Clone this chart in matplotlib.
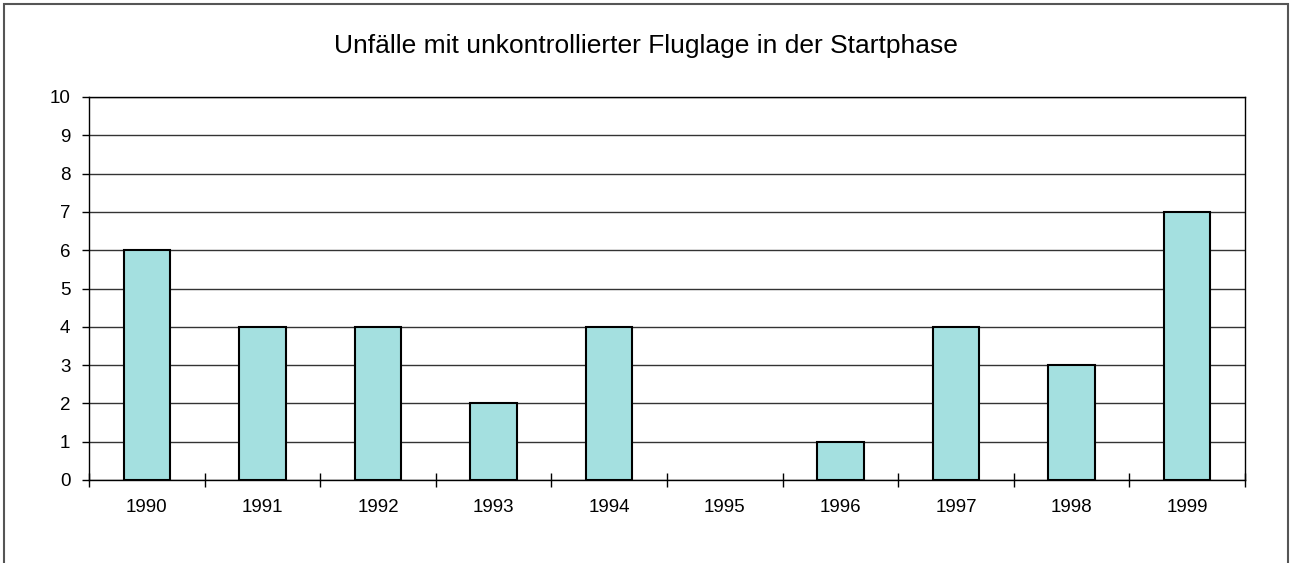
import matplotlib.pyplot as plt
from matplotlib.patches import Rectangle
import numpy as np

# data
years = ['1990', '1991', '1992', '1993', '1994', '1995', '1996', '1997', '1998', '1999']
accidents = [6, 4, 4, 2, 4, 0, 1, 4, 3, 7]
title = 'Unfälle mit unkontrollierter Fluglage in der Startphase'

plt.rcParams['font.family'] = ['Liberation Sans', 'DejaVu Sans']

fig = plt.figure(figsize=(12.9, 5.63), dpi=100)
ax = fig.add_axes([89 / 1290, 1 - 480 / 563, (1245 - 89) / 1290, (480 - 97) / 563])

x = np.arange(len(years))
# empty years get no outline
edge_w = [1.5 if v > 0 else 0 for v in accidents]
ax.bar(x, accidents, width=0.4, color='#a4e0e0', edgecolor='black', linewidth=edge_w, zorder=3)

ax.set_xlim(-0.5, len(years) - 0.5)
ax.set_ylim(0, 10)
ax.set_yticks(range(0, 11))
ax.yaxis.grid(True, color='#333333', linewidth=1, zorder=0)

# category boundary ticks, labels centered under bars
ax.set_xticks(np.arange(-0.5, len(years)), minor=False)
ax.set_xticklabels([])
ax.set_xticks(x, minor=True)
ax.set_xticklabels(years, minor=True)
ax.tick_params(axis='x', which='major', direction='inout', length=10, width=1)
ax.tick_params(axis='x', which='minor', length=0, pad=13.5, labelsize=13.5)
ax.tick_params(axis='y', direction='out', length=5, width=1, pad=8.5, labelsize=13.5)

for s in ax.spines.values():
    s.set_color('black')
    s.set_linewidth(1)

fig.text(645.5 / 1290, 1 - 53 / 563, title, ha='center', va='baseline', fontsize=19)

# outer chart frame (bottom cut off in the reference)
fig.add_artist(Rectangle((3.5 / 1290, -0.1), (1288 - 3.5) / 1290, 1.1 - 3.5 / 563,
                         transform=fig.transFigure, fill=False,
                         edgecolor='#555555', linewidth=1.5))

fig.savefig('out.png', dpi=100)
